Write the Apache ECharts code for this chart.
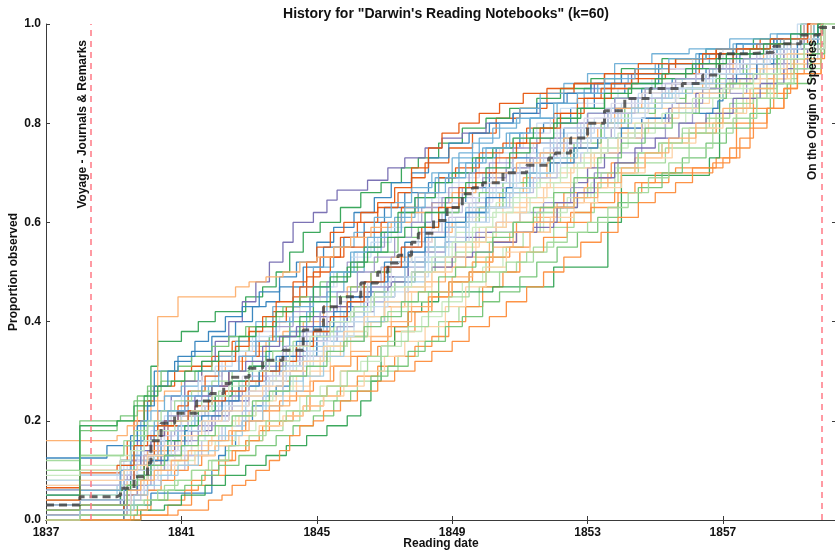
<!DOCTYPE html>
<html>
<head>
<meta charset="utf-8">
<script src="https://cdn.jsdelivr.net/npm/echarts@6/dist/echarts.min.js"></script>
<style>
  html, body { margin: 0; padding: 0; background: #fff; }
  #chart { width: 835px; height: 551px; }
</style>
</head>
<body>
<div id="chart"></div>
<script>
// Reading-date ticks and proportion ticks
const yearTicks = [1837, 1841, 1845, 1849, 1853, 1857];

// Publication events marked on the timeline
const eventYears = [1838.33, 1859.92];
const eventLabels = ['Voyage - Journals & Remarks', 'On the Origin of Species'];

// Topic colours (cycled over the 60 topics)
const palette = ['#3182bd', '#6baed6', '#9ecae1', '#c6dbef',
                 '#e6550d', '#fd8d3c', '#fdae6b', '#fdd0a2',
                 '#31a354', '#74c476', '#a1d99b', '#c7e9c0',
                 '#756bb1', '#9e9ac8', '#bcbddc', '#dadaeb'];

// Cumulative proportion of each topic observed by reading date: [year, proportion]
const topicCurves = [
  [[1837,0.125],[1838.8,0.15],[1839.5,0.17],[1839.7,0.2],[1840.0,0.24],[1840.2,0.3],[1840.8,0.32],[1841.3,0.34],[1841.9,0.37],[1842.6,0.4],[1843.1,0.43],[1843.5,0.44],[1843.9,0.47],[1844.6,0.51],[1845.2,0.55],[1845.8,0.57],[1846.4,0.6],[1847.0,0.63],[1847.6,0.66],[1848.3,0.68],[1848.9,0.7],[1849.7,0.73],[1850.3,0.75],[1851.0,0.78],[1851.7,0.8],[1852.5,0.83],[1853.2,0.86],[1854.1,0.88],[1855.1,0.9],[1856.2,0.92],[1857.3,0.95],[1858.6,0.97],[1859.6,1]],
  [[1837,0.02],[1838,0.03],[1839.2,0.09],[1839.5,0.13],[1839.8,0.17],[1840.2,0.2],[1840.6,0.22],[1841.2,0.24],[1841.8,0.27],[1842.4,0.3],[1843.1,0.33],[1843.6,0.37],[1844.2,0.41],[1844.8,0.45],[1845.4,0.5],[1846.1,0.54],[1846.7,0.58],[1847.3,0.61],[1847.9,0.65],[1848.5,0.69],[1849.2,0.72],[1849.9,0.75],[1850.6,0.78],[1851.3,0.81],[1852.1,0.84],[1852.9,0.87],[1853.8,0.9],[1855.0,0.92],[1856.2,0.94],[1857.3,0.96],[1858.4,0.97],[1859.8,1]],
  [[1837,0.05],[1838,0.06],[1839.3,0.1],[1839.7,0.12],[1840.1,0.14],[1840.5,0.16],[1840.9,0.18],[1841.6,0.2],[1842.2,0.22],[1842.9,0.25],[1843.5,0.28],[1844.0,0.32],[1844.6,0.36],[1845.2,0.39],[1845.8,0.42],[1846.4,0.46],[1847.0,0.49],[1847.7,0.52],[1848.3,0.55],[1848.9,0.59],[1849.5,0.62],[1850.1,0.65],[1850.8,0.68],[1851.6,0.72],[1852.4,0.76],[1853.1,0.8],[1853.9,0.83],[1854.7,0.86],[1855.6,0.88],[1856.7,0.91],[1857.8,0.93],[1858.7,0.96],[1859.5,1]],
  [[1837,0.0],[1838,0.01],[1839.4,0.06],[1839.7,0.08],[1840.0,0.1],[1840.6,0.13],[1841.1,0.16],[1841.7,0.2],[1842.4,0.24],[1843.0,0.27],[1843.7,0.3],[1844.3,0.34],[1845.0,0.38],[1845.7,0.43],[1846.3,0.47],[1846.9,0.51],[1847.5,0.55],[1848.0,0.58],[1848.6,0.62],[1849.2,0.66],[1849.9,0.7],[1850.6,0.73],[1851.3,0.76],[1852.0,0.78],[1852.8,0.8],[1853.6,0.83],[1854.5,0.86],[1855.6,0.89],[1856.7,0.91],[1857.8,0.94],[1858.9,0.96],[1859.9,1]],
  [[1837,0.065],[1838,0.095],[1839.2,0.12],[1839.4,0.16],[1839.6,0.2],[1839.9,0.24],[1840.2,0.27],[1840.8,0.3],[1841.3,0.31],[1841.9,0.33],[1842.5,0.36],[1843.0,0.39],[1843.7,0.42],[1844.3,0.45],[1844.7,0.49],[1845.1,0.53],[1845.7,0.57],[1846.2,0.6],[1846.8,0.63],[1847.4,0.66],[1847.8,0.69],[1848.2,0.72],[1848.9,0.75],[1849.6,0.78],[1850.3,0.81],[1851.0,0.83],[1851.8,0.86],[1852.6,0.88],[1853.5,0.9],[1854.4,0.91],[1855.6,0.93],[1856.8,0.95],[1858.1,0.97],[1859.4,1]],
  [[1837,0.0],[1839.3,0.02],[1840.1,0.04],[1841.1,0.06],[1841.5,0.07],[1841.9,0.09],[1842.3,0.12],[1842.6,0.14],[1843.0,0.16],[1843.4,0.19],[1843.9,0.2],[1844.3,0.22],[1844.8,0.25],[1845.3,0.27],[1845.7,0.3],[1846.2,0.33],[1846.8,0.35],[1847.3,0.38],[1847.9,0.42],[1848.4,0.45],[1849.0,0.48],[1849.6,0.52],[1850.2,0.56],[1850.9,0.6],[1851.6,0.63],[1852.3,0.66],[1853.0,0.69],[1853.7,0.72],[1854.5,0.74],[1855.2,0.76],[1856.0,0.78],[1856.8,0.8],[1857.4,0.83],[1857.9,0.86],[1858.5,0.9],[1859.1,0.93],[1859.9,1]],
  [[1837,0.16],[1839.1,0.17],[1839.4,0.19],[1839.7,0.22],[1840.1,0.24],[1840.5,0.26],[1841.0,0.28],[1841.6,0.3],[1842.3,0.32],[1842.9,0.34],[1843.5,0.36],[1844.0,0.38],[1844.6,0.4],[1845.2,0.43],[1845.9,0.47],[1846.6,0.5],[1847.2,0.53],[1847.8,0.56],[1848.4,0.58],[1849.0,0.6],[1849.7,0.63],[1850.4,0.66],[1851.1,0.69],[1851.8,0.72],[1852.5,0.75],[1853.3,0.79],[1854.0,0.82],[1854.8,0.84],[1855.6,0.86],[1856.4,0.88],[1857.3,0.9],[1858.2,0.93],[1859.0,0.96],[1859.7,1]],
  [[1837,0.03],[1838,0.04],[1839.5,0.07],[1839.9,0.09],[1840.4,0.12],[1841.0,0.15],[1841.5,0.17],[1842.1,0.19],[1842.7,0.21],[1843.2,0.24],[1843.8,0.26],[1844.4,0.29],[1845.1,0.33],[1845.7,0.36],[1846.4,0.4],[1847.0,0.43],[1847.7,0.47],[1848.4,0.51],[1849.1,0.55],[1849.8,0.59],[1850.5,0.63],[1851.2,0.67],[1851.9,0.7],[1852.6,0.73],[1853.4,0.77],[1854.2,0.8],[1855.0,0.83],[1855.9,0.86],[1856.9,0.88],[1857.8,0.91],[1858.6,0.94],[1859.8,1]],
  [[1837,0.0],[1838,0.02],[1839.3,0.1],[1839.6,0.16],[1839.9,0.23],[1840.1,0.31],[1840.3,0.36],[1841.0,0.38],[1841.5,0.4],[1842.0,0.42],[1842.9,0.45],[1843.4,0.47],[1843.8,0.5],[1844.2,0.54],[1844.6,0.58],[1845.1,0.6],[1845.7,0.63],[1846.3,0.66],[1846.9,0.68],[1847.5,0.71],[1848.0,0.73],[1848.6,0.76],[1849.3,0.79],[1850.0,0.81],[1850.7,0.83],[1851.5,0.85],[1852.2,0.87],[1853.1,0.89],[1854.0,0.91],[1855.2,0.93],[1856.5,0.95],[1857.9,0.97],[1859.3,1]],
  [[1837,0.06],[1838,0.18],[1839.1,0.2],[1839.6,0.24],[1840.0,0.26],[1840.4,0.28],[1841.4,0.3],[1841.9,0.32],[1842.5,0.34],[1843.0,0.35],[1843.6,0.37],[1844.2,0.4],[1844.8,0.42],[1845.4,0.45],[1846.0,0.47],[1846.6,0.5],[1847.2,0.52],[1847.8,0.54],[1848.5,0.57],[1849.1,0.6],[1849.8,0.63],[1850.5,0.67],[1851.2,0.7],[1851.9,0.74],[1852.7,0.77],[1853.4,0.8],[1854.1,0.83],[1855.0,0.85],[1855.9,0.87],[1856.8,0.9],[1857.6,0.92],[1858.6,0.95],[1859.6,1]],
  [[1837,0.01],[1838,0.02],[1839.6,0.04],[1840.5,0.07],[1840.9,0.08],[1841.3,0.1],[1841.8,0.12],[1842.3,0.14],[1842.9,0.16],[1843.4,0.18],[1844.0,0.2],[1844.5,0.22],[1845.1,0.24],[1845.6,0.26],[1846.2,0.28],[1846.8,0.3],[1847.4,0.33],[1848.0,0.36],[1848.6,0.4],[1849.2,0.43],[1849.8,0.47],[1850.4,0.5],[1850.9,0.52],[1851.4,0.55],[1852.0,0.59],[1852.6,0.62],[1853.2,0.66],[1853.8,0.7],[1854.5,0.72],[1855.3,0.75],[1856.0,0.78],[1856.7,0.8],[1857.4,0.83],[1858.0,0.86],[1858.6,0.89],[1859.2,0.92],[1859.9,1]],
  [[1837,0.1],[1838,0.11],[1839.2,0.13],[1839.5,0.15],[1839.8,0.17],[1840.3,0.19],[1840.7,0.21],[1841.3,0.22],[1841.9,0.24],[1842.6,0.26],[1843.2,0.28],[1843.8,0.3],[1844.4,0.33],[1844.9,0.36],[1845.5,0.39],[1846.1,0.42],[1846.7,0.45],[1847.3,0.49],[1847.9,0.52],[1848.5,0.55],[1849.1,0.58],[1849.7,0.61],[1850.3,0.64],[1851.0,0.67],[1851.6,0.69],[1852.4,0.72],[1853.1,0.75],[1853.9,0.78],[1854.7,0.8],[1855.5,0.83],[1856.3,0.86],[1857.2,0.89],[1858.1,0.91],[1859.0,0.95],[1859.7,1]],
  [[1837,0.02],[1838,0.03],[1839.2,0.08],[1839.5,0.12],[1839.7,0.16],[1840.0,0.19],[1840.3,0.22],[1840.7,0.25],[1841.1,0.28],[1841.6,0.32],[1842.0,0.36],[1842.4,0.4],[1842.8,0.44],[1843.2,0.48],[1843.6,0.52],[1844.0,0.56],[1844.3,0.6],[1844.9,0.62],[1845.3,0.645],[1845.6,0.665],[1846.5,0.685],[1847.1,0.71],[1847.6,0.73],[1848.2,0.75],[1848.7,0.77],[1849.3,0.78],[1850.0,0.8],[1850.8,0.82],[1851.6,0.84],[1852.4,0.86],[1853.2,0.88],[1854.3,0.9],[1855.4,0.91],[1856.4,0.93],[1857.4,0.95],[1858.5,0.97],[1859.5,1]],
  [[1837,0.04],[1838,0.05],[1839.4,0.09],[1839.7,0.11],[1840.0,0.14],[1840.4,0.17],[1840.8,0.19],[1841.2,0.21],[1841.7,0.23],[1842.2,0.25],[1842.8,0.27],[1843.3,0.29],[1843.9,0.31],[1844.5,0.34],[1845.0,0.36],[1845.6,0.39],[1846.1,0.42],[1846.7,0.45],[1847.3,0.48],[1847.9,0.5],[1848.5,0.53],[1849.1,0.56],[1849.7,0.58],[1850.3,0.6],[1851.0,0.62],[1851.7,0.64],[1852.5,0.67],[1853.2,0.7],[1853.9,0.74],[1854.6,0.77],[1855.3,0.8],[1856.1,0.83],[1856.9,0.86],[1857.7,0.89],[1858.5,0.92],[1859.2,0.95],[1859.8,1]],
  [[1837,0.02],[1838,0.04],[1839.3,0.07],[1839.6,0.09],[1840.0,0.12],[1840.4,0.14],[1840.9,0.17],[1841.5,0.2],[1842.1,0.24],[1842.7,0.27],[1843.3,0.3],[1843.9,0.33],[1844.5,0.37],[1845.1,0.41],[1845.7,0.44],[1846.3,0.48],[1846.9,0.51],[1847.5,0.55],[1848.1,0.58],[1848.7,0.62],[1849.3,0.65],[1850.0,0.68],[1850.6,0.71],[1851.2,0.74],[1851.9,0.77],[1852.7,0.8],[1853.5,0.83],[1854.3,0.85],[1855.2,0.88],[1856.2,0.9],[1857.2,0.93],[1858.3,0.96],[1859.4,1]],
  [[1837,0.07],[1838,0.08],[1839.1,0.1],[1839.5,0.13],[1839.9,0.16],[1840.3,0.2],[1840.7,0.24],[1841.2,0.26],[1841.6,0.29],[1842.2,0.32],[1842.7,0.35],[1843.3,0.38],[1843.9,0.41],[1844.5,0.44],[1845.1,0.47],[1845.6,0.5],[1846.2,0.54],[1846.8,0.57],[1847.4,0.6],[1848.0,0.63],[1848.6,0.66],[1849.2,0.69],[1849.8,0.72],[1850.4,0.75],[1851.1,0.78],[1851.9,0.81],[1852.7,0.84],[1853.5,0.87],[1854.3,0.89],[1855.2,0.91],[1856.1,0.93],[1857.0,0.95],[1858.0,0.96],[1859.0,0.98],[1859.8,1]],
  [[1837,0.0],[1839.3,0.03],[1840.1,0.054],[1841.9,0.1],[1842.1,0.13],[1842.3,0.15],[1842.6,0.18],[1842.8,0.2],[1843.1,0.23],[1843.4,0.25],[1843.8,0.27],[1844.2,0.3],[1844.6,0.33],[1845.0,0.37],[1845.4,0.4],[1845.9,0.44],[1846.4,0.48],[1847.0,0.52],[1847.6,0.56],[1848.2,0.6],[1848.8,0.64],[1849.4,0.67],[1850.1,0.7],[1850.8,0.73],[1851.5,0.76],[1852.3,0.79],[1853.0,0.82],[1853.8,0.85],[1854.6,0.87],[1855.5,0.89],[1856.5,0.91],[1857.5,0.94],[1858.6,0.97],[1859.6,1]],
  [[1837,0.03],[1838,0.05],[1839.2,0.11],[1839.5,0.15],[1839.8,0.2],[1840.1,0.22],[1840.5,0.25],[1841.0,0.27],[1841.5,0.3],[1842.1,0.33],[1842.6,0.36],[1843.2,0.4],[1843.7,0.43],[1844.3,0.47],[1844.9,0.51],[1845.5,0.55],[1846.1,0.58],[1846.7,0.61],[1847.2,0.64],[1847.8,0.67],[1848.4,0.7],[1849.0,0.73],[1849.6,0.76],[1850.2,0.79],[1850.9,0.81],[1851.6,0.84],[1852.4,0.86],[1853.3,0.88],[1854.2,0.9],[1855.4,0.92],[1856.6,0.94],[1857.6,0.96],[1858.7,0.97],[1859.9,1]],
  [[1837,0.01],[1838,0.02],[1839.5,0.05],[1839.9,0.07],[1840.2,0.09],[1840.7,0.11],[1841.2,0.13],[1841.8,0.16],[1842.3,0.19],[1842.9,0.22],[1843.5,0.25],[1844.0,0.28],[1844.6,0.32],[1845.2,0.36],[1845.8,0.4],[1846.4,0.44],[1847.0,0.47],[1847.6,0.51],[1848.2,0.55],[1848.8,0.59],[1849.4,0.63],[1850.0,0.67],[1850.7,0.7],[1851.3,0.73],[1852.0,0.76],[1852.8,0.79],[1853.6,0.82],[1854.5,0.85],[1855.4,0.87],[1856.5,0.9],[1857.7,0.92],[1858.6,0.95],[1859.6,1]],
  [[1837,0.05],[1838,0.07],[1839.3,0.12],[1839.7,0.15],[1840.1,0.18],[1840.5,0.21],[1841.0,0.25],[1841.5,0.28],[1842.0,0.31],[1842.5,0.34],[1843.1,0.37],[1843.7,0.4],[1844.3,0.44],[1844.9,0.47],[1845.5,0.5],[1846.0,0.53],[1846.6,0.56],[1847.2,0.59],[1847.8,0.62],[1848.4,0.65],[1849.0,0.68],[1849.6,0.71],[1850.2,0.74],[1850.8,0.77],[1851.5,0.8],[1852.2,0.83],[1853.0,0.85],[1853.9,0.87],[1854.9,0.89],[1855.9,0.91],[1857.0,0.93],[1858.1,0.96],[1859.2,1]],
  [[1837,0.0],[1838,0.01],[1839.4,0.05],[1839.7,0.08],[1840.0,0.12],[1840.3,0.16],[1840.6,0.19],[1841.0,0.21],[1841.4,0.23],[1841.9,0.27],[1842.4,0.3],[1842.8,0.33],[1843.3,0.36],[1843.7,0.4],[1844.1,0.43],[1844.5,0.47],[1844.9,0.5],[1845.4,0.53],[1845.8,0.55],[1846.4,0.58],[1846.9,0.6],[1847.5,0.63],[1848.0,0.66],[1848.6,0.69],[1849.1,0.71],[1849.8,0.74],[1850.5,0.76],[1851.2,0.79],[1852.0,0.82],[1852.7,0.85],[1853.4,0.87],[1854.3,0.89],[1855.3,0.9],[1856.3,0.92],[1857.3,0.94],[1858.4,0.96],[1859.5,1]],
  [[1837,0.0],[1839.6,0.01],[1840.6,0.03],[1841.3,0.08],[1841.7,0.1],[1842.1,0.12],[1842.5,0.14],[1842.9,0.16],[1843.3,0.18],[1843.6,0.2],[1844.1,0.21],[1844.6,0.23],[1845.2,0.25],[1845.7,0.27],[1846.2,0.29],[1846.8,0.31],[1847.3,0.33],[1847.9,0.35],[1848.4,0.37],[1848.9,0.4],[1849.4,0.43],[1849.9,0.47],[1850.5,0.5],[1851.0,0.54],[1851.7,0.57],[1852.4,0.6],[1853.1,0.63],[1853.9,0.66],[1854.6,0.68],[1855.4,0.7],[1856.1,0.71],[1856.8,0.73],[1857.4,0.8],[1857.9,0.83],[1858.5,0.86],[1859.0,0.9],[1859.4,0.93],[1860.0,1]],
  [[1837,0.04],[1838,0.06],[1839.2,0.08],[1839.9,0.12],[1840.3,0.14],[1840.8,0.16],[1841.3,0.18],[1841.8,0.2],[1842.4,0.23],[1843.0,0.26],[1843.6,0.28],[1844.2,0.3],[1844.7,0.32],[1845.3,0.35],[1845.9,0.37],[1846.5,0.4],[1847.0,0.43],[1847.6,0.46],[1848.2,0.48],[1848.8,0.51],[1849.4,0.53],[1850.1,0.56],[1850.7,0.58],[1851.4,0.61],[1852.1,0.64],[1852.9,0.67],[1853.6,0.7],[1854.4,0.73],[1855.2,0.76],[1856.0,0.79],[1856.8,0.82],[1857.6,0.86],[1858.3,0.89],[1858.9,0.92],[1859.9,1]],
  [[1837,0.02],[1838,0.03],[1839.3,0.06],[1839.8,0.08],[1840.2,0.11],[1840.8,0.13],[1841.3,0.15],[1841.9,0.17],[1842.5,0.2],[1843.0,0.22],[1843.6,0.25],[1844.2,0.27],[1844.8,0.3],[1845.4,0.33],[1846.0,0.37],[1846.6,0.4],[1847.2,0.43],[1847.8,0.46],[1848.4,0.5],[1849.0,0.53],[1849.7,0.57],[1850.3,0.6],[1851.0,0.64],[1851.7,0.67],[1852.5,0.71],[1853.2,0.74],[1854.0,0.78],[1854.8,0.81],[1855.7,0.84],[1856.6,0.87],[1857.5,0.89],[1858.3,0.92],[1859.0,0.94],[1859.9,1]],
  [[1837,0.0],[1839.8,0.02],[1840.5,0.03],[1841.0,0.05],[1841.7,0.07],[1842.3,0.09],[1842.9,0.11],[1843.5,0.13],[1844.1,0.15],[1844.7,0.17],[1845.3,0.19],[1845.9,0.21],[1846.3,0.24],[1846.6,0.28],[1846.9,0.35],[1847.3,0.39],[1847.7,0.42],[1848.1,0.44],[1848.6,0.46],[1850.2,0.47],[1852.0,0.51],[1853.6,0.6],[1854.0,0.695],[1856.6,0.73],[1856.9,0.94],[1858.4,0.96],[1859.7,0.98],[1859.95,1]],
  [[1837,0.08],[1838,0.2],[1839.2,0.21],[1839.7,0.25],[1840.0,0.27],[1840.4,0.3],[1840.9,0.31],[1841.3,0.33],[1841.9,0.35],[1842.4,0.37],[1842.9,0.39],[1843.5,0.41],[1844.0,0.43],[1844.5,0.45],[1845.1,0.48],[1845.6,0.5],[1846.2,0.52],[1846.8,0.54],[1847.4,0.57],[1848.0,0.59],[1848.6,0.62],[1849.2,0.64],[1849.8,0.66],[1850.5,0.68],[1851.2,0.7],[1851.9,0.73],[1852.6,0.76],[1853.4,0.79],[1854.2,0.82],[1855.0,0.84],[1855.9,0.87],[1856.8,0.89],[1857.7,0.92],[1858.6,0.94],[1859.8,1]],
  [[1837,0.1],[1838,0.13],[1839.3,0.15],[1839.6,0.17],[1840.0,0.19],[1840.5,0.2],[1841.0,0.22],[1841.6,0.24],[1842.1,0.26],[1842.7,0.28],[1843.3,0.3],[1843.9,0.31],[1844.6,0.33],[1845.2,0.35],[1845.9,0.37],[1846.5,0.4],[1847.1,0.42],[1847.7,0.44],[1848.3,0.46],[1848.9,0.48],[1849.5,0.5],[1850.0,0.53],[1850.6,0.55],[1851.1,0.58],[1851.6,0.6],[1852.2,0.63],[1852.7,0.66],[1853.3,0.68],[1853.9,0.71],[1854.5,0.74],[1855.1,0.76],[1855.8,0.79],[1856.6,0.82],[1857.4,0.85],[1858.3,0.88],[1859.0,0.92],[1859.6,1]],
  [[1837,0.03],[1838,0.04],[1839.5,0.07],[1839.9,0.08],[1840.3,0.1],[1840.9,0.12],[1841.4,0.14],[1842.0,0.16],[1842.6,0.18],[1843.2,0.2],[1843.9,0.22],[1844.5,0.25],[1845.1,0.27],[1845.7,0.3],[1846.3,0.32],[1846.9,0.35],[1847.5,0.38],[1848.1,0.41],[1848.7,0.44],[1849.3,0.48],[1849.9,0.51],[1850.5,0.55],[1851.1,0.58],[1851.7,0.62],[1852.4,0.65],[1853.1,0.68],[1853.8,0.71],[1854.5,0.74],[1855.2,0.76],[1856.0,0.79],[1856.8,0.82],[1857.6,0.85],[1858.4,0.88],[1859.0,0.91],[1859.6,0.94],[1860.0,1]],
  [[1837,0.01],[1838,0.02],[1839.3,0.06],[1839.7,0.08],[1840.0,0.11],[1840.4,0.13],[1840.8,0.16],[1841.3,0.18],[1841.9,0.21],[1842.4,0.24],[1843.0,0.27],[1843.5,0.3],[1844.1,0.33],[1844.7,0.36],[1845.3,0.4],[1845.9,0.43],[1846.5,0.46],[1847.1,0.49],[1847.7,0.52],[1848.2,0.54],[1848.8,0.56],[1849.4,0.57],[1850.0,0.58],[1851.4,0.59],[1852.0,0.64],[1852.6,0.68],[1853.0,0.71],[1853.5,0.74],[1854.0,0.77],[1854.6,0.8],[1855.4,0.83],[1856.2,0.86],[1857.1,0.89],[1858.0,0.92],[1858.8,0.95],[1859.7,1]],
  [[1837,0.06],[1838,0.07],[1839.2,0.1],[1839.5,0.12],[1839.8,0.15],[1840.2,0.18],[1840.6,0.21],[1841.1,0.24],[1841.6,0.27],[1842.2,0.3],[1842.7,0.33],[1843.2,0.36],[1843.8,0.39],[1844.3,0.42],[1844.8,0.45],[1845.3,0.48],[1845.9,0.52],[1846.4,0.55],[1847.0,0.58],[1847.5,0.6],[1848.1,0.63],[1848.7,0.65],[1849.3,0.67],[1849.9,0.69],[1850.6,0.71],[1851.3,0.73],[1852.0,0.75],[1852.8,0.77],[1853.7,0.79],[1854.6,0.81],[1855.5,0.84],[1856.4,0.87],[1857.3,0.9],[1858.2,0.92],[1859.1,0.95],[1859.9,1]],
  [[1837,0.0],[1838,0.01],[1839.4,0.04],[1839.8,0.06],[1840.2,0.08],[1840.6,0.1],[1841.1,0.13],[1841.6,0.16],[1842.2,0.19],[1842.8,0.22],[1843.4,0.26],[1844.0,0.29],[1844.6,0.33],[1845.2,0.37],[1845.8,0.41],[1846.4,0.44],[1847.0,0.48],[1847.6,0.51],[1848.2,0.54],[1848.8,0.57],[1849.4,0.6],[1850.0,0.63],[1850.7,0.66],[1851.4,0.69],[1852.1,0.72],[1852.8,0.74],[1853.6,0.77],[1854.4,0.79],[1855.3,0.82],[1856.2,0.85],[1857.1,0.88],[1857.9,0.9],[1858.8,0.93],[1859.8,1]],
  [[1837,0.04],[1838,0.05],[1839.3,0.09],[1839.7,0.12],[1840.1,0.15],[1840.5,0.17],[1841.0,0.2],[1841.6,0.23],[1842.2,0.26],[1842.8,0.29],[1843.5,0.32],[1844.1,0.35],[1844.7,0.39],[1845.3,0.42],[1845.9,0.45],[1846.5,0.48],[1847.1,0.51],[1847.7,0.54],[1848.3,0.57],[1848.9,0.6],[1849.6,0.64],[1850.2,0.67],[1850.9,0.7],[1851.6,0.73],[1852.3,0.76],[1853.1,0.79],[1853.9,0.82],[1854.8,0.85],[1855.7,0.87],[1856.6,0.9],[1857.5,0.92],[1858.4,0.95],[1859.3,0.97],[1859.9,1]],
  [[1837,0.06],[1838,0.09],[1839.2,0.12],[1839.5,0.16],[1839.7,0.19],[1840.0,0.23],[1840.2,0.27],[1840.6,0.3],[1840.9,0.33],[1841.4,0.36],[1841.8,0.38],[1842.3,0.41],[1842.8,0.43],[1843.3,0.46],[1843.9,0.49],[1844.4,0.52],[1845.0,0.56],[1845.5,0.59],[1846.1,0.62],[1846.7,0.65],[1847.2,0.68],[1847.8,0.7],[1848.3,0.73],[1848.9,0.76],[1849.5,0.78],[1850.1,0.8],[1850.8,0.82],[1851.5,0.84],[1852.3,0.86],[1853.1,0.88],[1854.0,0.9],[1855.1,0.92],[1856.3,0.94],[1857.4,0.96],[1858.5,0.97],[1859.8,1]],
  [[1837,0.02],[1838,0.04],[1839.3,0.08],[1839.6,0.1],[1840.0,0.13],[1840.4,0.16],[1840.9,0.19],[1841.4,0.22],[1842.0,0.25],[1842.5,0.28],[1843.1,0.31],[1843.6,0.34],[1844.2,0.38],[1844.7,0.42],[1845.3,0.46],[1845.8,0.5],[1846.4,0.54],[1846.9,0.58],[1847.5,0.62],[1848.0,0.66],[1848.6,0.7],[1849.2,0.74],[1849.8,0.77],[1850.4,0.8],[1851.0,0.83],[1851.6,0.86],[1852.3,0.88],[1853.0,0.9],[1853.8,0.92],[1854.9,0.94],[1856.0,0.95],[1857.2,0.97],[1858.4,0.98],[1859.7,1]],
  [[1837,0.03],[1838,0.05],[1839.1,0.07],[1839.5,0.1],[1839.8,0.12],[1840.2,0.15],[1840.7,0.18],[1841.3,0.2],[1841.8,0.22],[1842.4,0.25],[1843.0,0.27],[1843.5,0.3],[1844.1,0.32],[1844.7,0.35],[1845.2,0.38],[1845.8,0.41],[1846.4,0.45],[1847.0,0.48],[1847.6,0.52],[1848.2,0.55],[1848.8,0.59],[1849.4,0.62],[1850.1,0.66],[1850.8,0.7],[1851.5,0.74],[1852.2,0.77],[1852.9,0.8],[1853.7,0.83],[1854.5,0.85],[1855.5,0.88],[1856.4,0.9],[1857.4,0.93],[1858.3,0.95],[1859.0,0.97],[1859.8,1]],
  [[1837,0.08],[1838,0.09],[1839.4,0.11],[1839.8,0.13],[1840.1,0.16],[1840.5,0.18],[1841.0,0.21],[1841.7,0.23],[1842.3,0.25],[1842.9,0.27],[1843.6,0.29],[1844.2,0.31],[1844.9,0.34],[1845.5,0.37],[1846.1,0.41],[1846.7,0.45],[1847.3,0.49],[1847.9,0.53],[1848.5,0.57],[1849.1,0.61],[1849.7,0.65],[1850.3,0.68],[1851.0,0.72],[1851.7,0.75],[1852.4,0.78],[1853.2,0.81],[1854.0,0.84],[1854.9,0.86],[1855.8,0.89],[1856.8,0.91],[1857.8,0.94],[1858.7,0.96],[1859.6,1]],
  [[1837,0.01],[1838,0.02],[1839.3,0.07],[1839.6,0.1],[1839.9,0.13],[1840.2,0.17],[1840.5,0.2],[1840.9,0.23],[1841.2,0.26],[1841.7,0.29],[1842.1,0.32],[1842.6,0.35],[1843.0,0.38],[1843.4,0.41],[1843.8,0.44],[1844.3,0.48],[1844.7,0.52],[1845.0,0.55],[1845.4,0.58],[1845.8,0.6],[1846.3,0.62],[1846.8,0.64],[1847.3,0.67],[1847.8,0.71],[1848.3,0.75],[1848.7,0.78],[1849.2,0.8],[1849.8,0.82],[1850.4,0.84],[1851.1,0.86],[1851.8,0.87],[1852.6,0.88],[1853.5,0.9],[1854.5,0.92],[1855.6,0.93],[1856.8,0.95],[1858.0,0.96],[1859.6,1]],
  [[1837,0.02],[1838,0.03],[1839.5,0.05],[1840.0,0.06],[1840.4,0.08],[1840.8,0.1],[1841.2,0.11],[1841.6,0.13],[1842.0,0.15],[1842.5,0.18],[1842.9,0.2],[1843.4,0.22],[1843.9,0.24],[1844.4,0.26],[1844.9,0.28],[1845.5,0.31],[1846.0,0.33],[1846.6,0.36],[1847.1,0.39],[1847.7,0.42],[1848.3,0.45],[1848.9,0.48],[1849.5,0.5],[1850.1,0.53],[1850.7,0.55],[1851.3,0.58],[1851.9,0.6],[1852.5,0.62],[1853.1,0.64],[1853.8,0.66],[1854.4,0.68],[1855.0,0.7],[1855.6,0.71],[1857.0,0.73],[1857.5,0.77],[1857.9,0.8],[1858.3,0.83],[1858.8,0.87],[1859.2,0.9],[1859.9,1]],
  [[1837,0.0],[1839.5,0.02],[1840.0,0.14],[1840.3,0.41],[1840.9,0.45],[1842.6,0.47],[1843.0,0.48],[1843.5,0.49],[1844.0,0.5],[1844.5,0.52],[1845.0,0.53],[1845.5,0.55],[1846.0,0.57],[1846.6,0.59],[1847.2,0.6],[1847.8,0.62],[1848.4,0.64],[1849.0,0.66],[1849.7,0.68],[1850.3,0.7],[1850.9,0.72],[1851.6,0.74],[1852.3,0.77],[1853.0,0.8],[1853.8,0.83],[1854.6,0.86],[1855.5,0.88],[1856.4,0.9],[1857.3,0.92],[1858.2,0.94],[1859.0,0.96],[1859.7,1]],
  [[1837,0.05],[1838,0.06],[1839.4,0.08],[1840.3,0.1],[1840.8,0.11],[1841.4,0.13],[1842.0,0.15],[1842.7,0.17],[1843.3,0.19],[1844.0,0.21],[1844.6,0.23],[1845.2,0.25],[1845.8,0.27],[1846.4,0.3],[1847.0,0.33],[1847.6,0.36],[1848.2,0.39],[1848.8,0.43],[1849.4,0.47],[1850.0,0.51],[1850.6,0.54],[1851.3,0.58],[1851.9,0.61],[1852.6,0.64],[1853.3,0.67],[1854.0,0.7],[1854.7,0.73],[1855.5,0.76],[1856.2,0.79],[1857.0,0.82],[1857.7,0.85],[1858.5,0.89],[1859.0,0.92],[1859.5,0.95],[1860.0,1]],
  [[1837,0.03],[1838,0.04],[1839.2,0.06],[1839.5,0.08],[1839.9,0.11],[1840.2,0.13],[1840.6,0.16],[1841.1,0.19],[1841.5,0.22],[1842.0,0.25],[1842.5,0.28],[1843.0,0.31],[1843.5,0.34],[1844.0,0.37],[1844.5,0.41],[1844.9,0.44],[1845.4,0.48],[1845.9,0.51],[1846.4,0.55],[1846.9,0.58],[1847.4,0.62],[1847.9,0.65],[1848.5,0.68],[1849.0,0.7],[1849.6,0.73],[1850.2,0.75],[1850.8,0.77],[1851.4,0.79],[1852.1,0.81],[1852.8,0.83],[1853.5,0.85],[1854.2,0.87],[1855.0,0.89],[1855.9,0.91],[1856.8,0.93],[1857.8,0.95],[1858.8,0.97],[1859.8,1]],
  [[1837,0.0],[1838,0.01],[1839.7,0.03],[1840.1,0.04],[1840.6,0.06],[1841.1,0.07],[1841.6,0.09],[1842.1,0.11],[1842.7,0.13],[1843.2,0.15],[1843.8,0.17],[1844.3,0.19],[1844.9,0.21],[1845.5,0.24],[1846.0,0.26],[1846.6,0.29],[1847.1,0.31],[1847.7,0.34],[1848.2,0.36],[1848.8,0.39],[1849.3,0.41],[1849.9,0.44],[1850.4,0.46],[1851.0,0.49],[1851.5,0.52],[1852.1,0.55],[1852.7,0.58],[1853.3,0.61],[1853.9,0.64],[1854.5,0.67],[1855.2,0.7],[1855.8,0.73],[1856.5,0.76],[1857.1,0.79],[1857.8,0.82],[1858.4,0.85],[1858.9,0.88],[1859.6,0.94],[1860.0,1]],
  [[1837,0.12],[1838,0.13],[1839.3,0.16],[1839.6,0.18],[1840.0,0.2],[1840.4,0.22],[1840.8,0.24],[1841.3,0.26],[1841.9,0.28],[1842.5,0.3],[1843.1,0.32],[1843.7,0.34],[1844.3,0.36],[1844.9,0.38],[1845.5,0.41],[1846.1,0.43],[1846.7,0.46],[1847.3,0.48],[1847.9,0.5],[1848.5,0.52],[1849.1,0.54],[1849.6,0.56],[1850.2,0.58],[1850.8,0.6],[1851.5,0.62],[1852.0,0.63],[1852.6,0.65],[1853.0,0.67],[1853.4,0.7],[1853.9,0.72],[1854.5,0.74],[1855.1,0.76],[1855.8,0.78],[1856.5,0.81],[1857.2,0.84],[1857.9,0.87],[1858.6,0.9],[1859.1,0.93],[1859.7,1]],
  [[1837,0.04],[1838,0.05],[1839.2,0.07],[1839.6,0.08],[1840.0,0.1],[1840.5,0.12],[1841.0,0.14],[1841.5,0.16],[1842.1,0.19],[1842.6,0.21],[1843.2,0.24],[1843.7,0.26],[1844.3,0.29],[1844.8,0.32],[1845.4,0.35],[1845.9,0.38],[1846.5,0.41],[1847.0,0.44],[1847.6,0.47],[1848.2,0.5],[1848.8,0.53],[1849.4,0.56],[1850.0,0.59],[1850.6,0.62],[1851.3,0.65],[1852.0,0.68],[1852.7,0.72],[1853.4,0.75],[1854.2,0.78],[1855.0,0.8],[1855.9,0.83],[1856.7,0.85],[1857.6,0.88],[1858.3,0.9],[1859.0,0.93],[1859.9,1]],
  [[1837,0.03],[1838,0.04],[1839.3,0.08],[1839.5,0.11],[1839.8,0.14],[1840.1,0.17],[1840.5,0.2],[1840.9,0.22],[1841.4,0.25],[1841.9,0.27],[1842.4,0.3],[1842.9,0.32],[1843.4,0.35],[1843.9,0.37],[1844.4,0.39],[1844.9,0.41],[1845.5,0.43],[1846.0,0.45],[1846.6,0.47],[1847.2,0.48],[1847.8,0.5],[1848.4,0.51],[1849.0,0.53],[1849.6,0.54],[1850.2,0.56],[1850.9,0.58],[1851.5,0.6],[1852.1,0.63],[1852.7,0.66],[1853.2,0.69],[1853.8,0.72],[1854.4,0.75],[1855.0,0.77],[1855.7,0.8],[1856.5,0.82],[1857.3,0.85],[1858.1,0.88],[1858.8,0.91],[1859.5,0.95],[1860.0,1]],
  [[1837,0.01],[1838,0.02],[1839.4,0.05],[1839.7,0.07],[1840.1,0.1],[1840.5,0.13],[1841.0,0.16],[1841.5,0.19],[1842.0,0.22],[1842.5,0.25],[1843.0,0.28],[1843.5,0.31],[1844.0,0.35],[1844.6,0.38],[1845.1,0.42],[1845.6,0.46],[1846.2,0.5],[1846.7,0.53],[1847.3,0.57],[1847.8,0.6],[1848.4,0.64],[1848.9,0.67],[1849.5,0.7],[1850.1,0.72],[1850.8,0.75],[1851.5,0.77],[1852.2,0.8],[1853.0,0.82],[1853.8,0.85],[1854.7,0.87],[1855.6,0.89],[1856.6,0.91],[1857.6,0.93],[1858.5,0.95],[1859.4,0.97],[1859.9,1]],
  [[1837,0.06],[1838,0.07],[1839.2,0.09],[1839.5,0.11],[1839.9,0.13],[1840.3,0.15],[1840.7,0.18],[1841.2,0.21],[1841.8,0.24],[1842.3,0.26],[1842.9,0.29],[1843.5,0.32],[1844.1,0.35],[1844.7,0.38],[1845.3,0.41],[1845.9,0.44],[1846.5,0.47],[1847.1,0.51],[1847.7,0.54],[1848.3,0.58],[1848.9,0.61],[1849.5,0.64],[1850.1,0.67],[1850.7,0.7],[1851.4,0.73],[1852.1,0.76],[1852.8,0.79],[1853.6,0.82],[1854.4,0.85],[1855.3,0.88],[1856.2,0.9],[1857.1,0.92],[1858.0,0.94],[1858.8,0.97],[1859.6,1]],
  [[1837,0.0],[1838,0.02],[1839.5,0.06],[1839.9,0.08],[1840.3,0.11],[1840.8,0.14],[1841.3,0.17],[1841.8,0.2],[1842.4,0.23],[1843.0,0.26],[1843.6,0.29],[1844.2,0.32],[1844.8,0.36],[1845.4,0.4],[1846.0,0.44],[1846.6,0.48],[1847.2,0.52],[1847.8,0.56],[1848.4,0.6],[1849.0,0.64],[1849.6,0.68],[1850.2,0.71],[1850.8,0.74],[1851.4,0.76],[1852.1,0.79],[1852.9,0.81],[1853.7,0.84],[1854.6,0.86],[1855.5,0.88],[1856.4,0.9],[1857.4,0.92],[1858.3,0.94],[1859.2,0.96],[1859.9,1]],
  [[1837,0.02],[1838,0.03],[1839.3,0.06],[1839.7,0.09],[1840.1,0.12],[1840.6,0.15],[1841.1,0.18],[1841.6,0.21],[1842.2,0.24],[1842.7,0.27],[1843.3,0.3],[1843.8,0.33],[1844.4,0.36],[1844.9,0.39],[1845.5,0.42],[1846.0,0.45],[1846.6,0.48],[1847.1,0.51],[1847.7,0.54],[1848.2,0.57],[1848.8,0.6],[1849.4,0.62],[1850.0,0.65],[1850.6,0.67],[1851.3,0.7],[1851.9,0.72],[1852.6,0.75],[1853.3,0.77],[1854.0,0.79],[1854.6,0.81],[1855.3,0.82],[1856.7,0.83],[1856.85,0.845],[1857.0,0.86],[1857.2,0.88],[1857.4,0.9],[1858.0,0.92],[1858.5,0.93],[1859.2,0.96],[1859.8,1]],
  [[1837,0.05],[1838,0.06],[1839.2,0.1],[1839.5,0.13],[1839.8,0.16],[1840.2,0.19],[1840.6,0.22],[1841.1,0.25],[1841.6,0.27],[1842.1,0.3],[1842.7,0.33],[1843.2,0.36],[1843.8,0.4],[1844.3,0.43],[1844.9,0.47],[1845.4,0.5],[1846.0,0.54],[1846.5,0.57],[1847.1,0.6],[1847.6,0.63],[1848.2,0.66],[1848.8,0.69],[1849.4,0.72],[1850.0,0.75],[1850.7,0.78],[1851.3,0.81],[1852.0,0.84],[1852.7,0.86],[1853.5,0.89],[1854.4,0.91],[1855.4,0.93],[1856.5,0.95],[1857.6,0.96],[1858.6,0.98],[1859.7,1]],
  [[1837,0.01],[1838,0.02],[1839.6,0.05],[1840.0,0.07],[1840.4,0.09],[1840.9,0.11],[1841.5,0.14],[1842.1,0.17],[1842.8,0.2],[1843.4,0.23],[1844.0,0.26],[1844.6,0.29],[1845.2,0.33],[1845.8,0.36],[1846.4,0.4],[1847.0,0.44],[1847.6,0.48],[1848.2,0.52],[1848.8,0.56],[1849.4,0.6],[1850.0,0.63],[1850.6,0.66],[1851.3,0.7],[1852.0,0.73],[1852.7,0.77],[1853.5,0.8],[1854.3,0.83],[1855.2,0.86],[1856.1,0.88],[1857.1,0.9],[1858.2,0.93],[1859.0,0.96],[1859.7,1]],
  [[1837,0.03],[1838,0.04],[1839.3,0.08],[1839.7,0.1],[1840.2,0.13],[1840.7,0.15],[1841.2,0.18],[1841.7,0.2],[1842.3,0.23],[1842.9,0.25],[1843.5,0.28],[1844.1,0.31],[1844.7,0.34],[1845.3,0.37],[1845.9,0.4],[1846.5,0.43],[1847.1,0.46],[1847.7,0.49],[1848.3,0.53],[1848.9,0.56],[1849.5,0.6],[1850.1,0.63],[1850.8,0.67],[1851.5,0.7],[1852.2,0.74],[1853.0,0.77],[1853.8,0.81],[1854.7,0.84],[1855.6,0.87],[1856.5,0.9],[1857.5,0.92],[1858.4,0.95],[1859.3,0.97],[1859.9,1]],
  [[1837,0.04],[1838,0.1],[1839.1,0.11],[1839.6,0.15],[1840.0,0.17],[1840.3,0.19],[1840.8,0.2],[1841.2,0.22],[1841.8,0.24],[1842.3,0.26],[1842.9,0.28],[1843.4,0.3],[1843.9,0.32],[1844.4,0.35],[1844.9,0.38],[1845.4,0.41],[1845.9,0.44],[1846.4,0.48],[1847.0,0.51],[1847.5,0.55],[1848.1,0.59],[1848.6,0.63],[1849.2,0.67],[1849.7,0.7],[1850.3,0.73],[1850.9,0.76],[1851.6,0.79],[1852.2,0.82],[1852.9,0.85],[1853.7,0.88],[1854.5,0.9],[1855.4,0.92],[1856.4,0.94],[1857.4,0.95],[1858.4,0.97],[1859.5,1]],
  [[1837,0.0],[1839.8,0.01],[1840.9,0.02],[1841.8,0.04],[1842.2,0.05],[1842.5,0.07],[1842.9,0.08],[1843.2,0.1],[1843.6,0.12],[1843.9,0.14],[1844.2,0.17],[1844.5,0.19],[1844.9,0.2],[1845.2,0.22],[1845.7,0.24],[1846.2,0.26],[1846.8,0.28],[1847.3,0.3],[1847.9,0.32],[1848.4,0.34],[1849.0,0.36],[1849.5,0.39],[1850.1,0.41],[1850.6,0.44],[1851.2,0.47],[1851.7,0.5],[1852.3,0.53],[1852.8,0.56],[1853.4,0.58],[1853.9,0.61],[1854.5,0.64],[1855.0,0.66],[1855.6,0.68],[1856.1,0.7],[1856.7,0.72],[1857.2,0.75],[1857.8,0.79],[1858.3,0.83],[1858.8,0.87],[1859.2,0.9],[1859.9,1]],
  [[1837,0.02],[1838,0.03],[1839.4,0.06],[1839.8,0.08],[1840.2,0.1],[1840.7,0.12],[1841.2,0.14],[1841.8,0.16],[1842.4,0.18],[1843.0,0.2],[1843.6,0.23],[1844.2,0.25],[1844.8,0.28],[1845.4,0.31],[1846.0,0.34],[1846.6,0.37],[1847.2,0.4],[1847.8,0.43],[1848.4,0.46],[1849.0,0.49],[1849.6,0.52],[1850.2,0.55],[1850.8,0.58],[1851.4,0.6],[1852.0,0.63],[1852.6,0.65],[1853.3,0.68],[1854.0,0.71],[1854.7,0.74],[1855.4,0.77],[1856.2,0.8],[1857.0,0.83],[1857.8,0.87],[1858.5,0.9],[1859.1,0.93],[1859.9,1]],
  [[1837,0.07],[1838,0.08],[1839.3,0.1],[1839.7,0.11],[1840.0,0.13],[1840.5,0.15],[1841.0,0.17],[1841.6,0.2],[1842.2,0.22],[1842.8,0.25],[1843.4,0.27],[1844.0,0.3],[1844.6,0.32],[1845.2,0.35],[1845.8,0.38],[1846.4,0.41],[1847.0,0.44],[1847.6,0.47],[1848.2,0.5],[1848.8,0.53],[1849.4,0.56],[1850.0,0.59],[1850.6,0.62],[1851.2,0.65],[1851.8,0.68],[1852.5,0.71],[1853.1,0.74],[1853.9,0.77],[1854.6,0.8],[1855.5,0.83],[1856.3,0.86],[1857.2,0.88],[1858.1,0.91],[1858.9,0.94],[1859.6,1]],
  [[1837,0.05],[1838,0.19],[1839.1,0.2],[1839.6,0.23],[1839.9,0.25],[1840.3,0.27],[1840.7,0.28],[1841.1,0.3],[1841.6,0.32],[1842.1,0.34],[1842.7,0.37],[1843.2,0.39],[1843.8,0.42],[1844.3,0.44],[1844.9,0.47],[1845.4,0.49],[1846.0,0.52],[1846.5,0.54],[1847.1,0.57],[1847.6,0.59],[1848.2,0.62],[1848.8,0.65],[1849.4,0.68],[1850.0,0.71],[1850.7,0.74],[1851.3,0.77],[1852.0,0.8],[1852.7,0.83],[1853.5,0.86],[1854.3,0.88],[1855.2,0.9],[1856.1,0.92],[1857.1,0.94],[1858.2,0.96],[1859.0,0.98],[1859.8,1]],
  [[1837,0.02],[1838,0.03],[1839.4,0.07],[1839.7,0.09],[1840.1,0.11],[1840.5,0.13],[1841.0,0.15],[1841.5,0.17],[1842.0,0.19],[1842.5,0.21],[1843.1,0.24],[1843.6,0.26],[1844.2,0.29],[1844.7,0.31],[1845.3,0.34],[1845.8,0.36],[1846.4,0.39],[1846.9,0.41],[1847.5,0.44],[1848.0,0.46],[1848.6,0.49],[1849.1,0.51],[1849.7,0.54],[1850.2,0.57],[1850.8,0.6],[1851.4,0.63],[1852.0,0.66],[1852.6,0.69],[1853.3,0.73],[1854.0,0.76],[1854.7,0.79],[1855.5,0.82],[1856.3,0.85],[1857.1,0.88],[1857.9,0.9],[1858.6,0.93],[1859.4,0.96],[1860.0,1]],
  [[1837,0.0],[1838,0.01],[1839.5,0.03],[1839.9,0.04],[1840.3,0.06],[1840.8,0.08],[1841.3,0.1],[1841.9,0.12],[1842.4,0.15],[1843.0,0.17],[1843.5,0.2],[1844.1,0.22],[1844.7,0.25],[1845.3,0.27],[1845.9,0.3],[1846.5,0.33],[1847.1,0.36],[1847.7,0.39],[1848.3,0.42],[1848.9,0.45],[1849.5,0.48],[1850.0,0.5],[1850.6,0.52],[1851.2,0.54],[1851.8,0.56],[1852.4,0.58],[1853.0,0.6],[1853.6,0.63],[1854.2,0.66],[1854.8,0.69],[1855.4,0.72],[1856.0,0.75],[1856.7,0.78],[1857.3,0.81],[1858.0,0.85],[1858.6,0.88],[1859.1,0.91],[1859.9,1]],
  [[1837,0.09],[1838,0.1],[1839.2,0.12],[1839.5,0.14],[1839.9,0.16],[1840.3,0.18],[1840.8,0.2],[1841.3,0.22],[1841.9,0.25],[1842.4,0.27],[1843.0,0.3],[1843.6,0.32],[1844.2,0.35],[1844.8,0.37],[1845.4,0.4],[1846.0,0.42],[1846.6,0.45],[1847.2,0.47],[1847.8,0.5],[1848.4,0.53],[1849.0,0.56],[1849.6,0.59],[1850.2,0.62],[1850.8,0.65],[1851.5,0.68],[1852.2,0.71],[1852.9,0.74],[1853.6,0.77],[1854.4,0.8],[1855.2,0.82],[1856.1,0.85],[1857.0,0.87],[1857.9,0.9],[1858.7,0.93],[1859.4,0.95],[1860.0,1]]
];

// Mean proportion over all topics
const meanCurve = [[1837,0.03],[1838,0.047],[1839.1,0.05],[1839.2,0.064],[1839.6,0.087],[1840,0.115],[1840.1,0.16],[1840.4,0.195],[1840.8,0.215],[1841.45,0.24],[1841.85,0.255],[1842.25,0.275],[1842.45,0.288],[1843.0,0.306],[1843.4,0.322],[1844.0,0.342],[1844.6,0.383],[1845.2,0.43],[1845.7,0.45],[1846.3,0.478],[1846.8,0.5],[1847.1,0.518],[1847.4,0.534],[1847.8,0.56],[1848.0,0.578],[1848.45,0.604],[1848.85,0.63],[1849.3,0.658],[1849.6,0.67],[1849.9,0.68],[1850.5,0.7],[1851.2,0.715],[1851.85,0.73],[1852.05,0.74],[1852.5,0.77],[1853.0,0.8],[1853.5,0.825],[1854.1,0.85],[1854.85,0.87],[1855.8,0.88],[1856.4,0.897],[1856.9,0.94],[1857.8,0.943],[1858.5,0.955],[1858.8,0.96],[1859.3,0.978],[1859.85,0.993]];

const X_MIN = 1837;
const X_MAX = 1860.34;
const FONT = '"Liberation Sans", Arial, sans-serif';

// Hold the final proportion until the end of the axis
function holdToEnd(points) {
  const last = points[points.length - 1];
  return points.concat([[X_MAX, last[1]]]);
}

const chart = echarts.init(document.getElementById('chart'), null, { renderer: 'canvas' });

const topicSeries = topicCurves.map((pts, i) => ({
  type: 'line',
  step: 'end',
  data: holdToEnd(pts),
  showSymbol: false,
  symbol: 'none',
  silent: true,
  clip: true,
  z: 2,
  lineStyle: { color: palette[i % palette.length], width: 1.3, opacity: 0.95 }
}));

const meanSeries = {
  type: 'line',
  step: 'end',
  data: holdToEnd(meanCurve),
  showSymbol: false,
  symbol: 'none',
  silent: true,
  clip: true,
  z: 4,
  lineStyle: { color: 'rgba(60,60,60,0.8)', width: 3, type: [8, 5] },
  markLine: {
    silent: true,
    symbol: ['none', 'none'],
    label: { show: false },
    lineStyle: { color: '#ff7a85', width: 1.5, type: [6, 5] },
    data: eventYears.map(y => ({ xAxis: y }))
  }
};

const axisLineStyle = { color: '#3a3a3a', width: 1 };
const tickStyle = { show: true, inside: true, length: 4, lineStyle: { color: '#3a3a3a', width: 1 } };

chart.setOption({
  animation: false,
  backgroundColor: '#ffffff',
  title: {
    text: 'History for "Darwin\'s Reading Notebooks" (k=60)',
    left: 441,
    top: 2,
    textAlign: 'center',
    textStyle: { fontFamily: FONT, fontWeight: 'bold', fontSize: 14, color: '#111' }
  },
  grid: { left: 46, top: 24, width: 790, height: 496, outerBoundsMode: 'none', containLabel: false },
  xAxis: [
    {
      type: 'value', min: X_MIN, max: X_MAX, position: 'bottom',
      name: 'Reading date', nameLocation: 'middle', nameGap: 18, nameMoveOverlap: false,
      nameTextStyle: { fontFamily: FONT, fontWeight: 'bold', fontSize: 12, color: '#111' },
      axisLine: { show: true, lineStyle: axisLineStyle },
      axisTick: Object.assign({ customValues: yearTicks }, tickStyle),
      axisLabel: { customValues: yearTicks, margin: 7, fontFamily: FONT, fontWeight: 'bold', fontSize: 12, color: '#111', formatter: v => String(v) },
      splitLine: { show: false }
    },
    {
      type: 'value', min: X_MIN, max: X_MAX, position: 'top',
      axisLine: { show: true, lineStyle: axisLineStyle },
      axisTick: Object.assign({ customValues: yearTicks }, tickStyle),
      axisLabel: { show: false },
      splitLine: { show: false }
    }
  ],
  yAxis: [
    {
      type: 'value', min: 0, max: 1, interval: 0.2, position: 'left',
      name: 'Proportion observed', nameLocation: 'middle', nameGap: 26, nameRotate: 90, nameMoveOverlap: false,
      nameTextStyle: { fontFamily: FONT, fontWeight: 'bold', fontSize: 12, color: '#111' },
      axisLine: { show: true, lineStyle: axisLineStyle },
      axisTick: tickStyle,
      axisLabel: { margin: 5, fontFamily: FONT, fontWeight: 'bold', fontSize: 12, color: '#111', formatter: v => v.toFixed(1) },
      splitLine: { show: false }
    },
    {
      type: 'value', min: 0, max: 1, interval: 0.2, position: 'right',
      axisLine: { show: true, lineStyle: axisLineStyle },
      axisTick: tickStyle,
      axisLabel: { show: false },
      splitLine: { show: false }
    }
  ],
  series: topicSeries.concat([meanSeries])
});

// Vertical event captions placed just left of each event line
const topPx = chart.convertToPixel({ yAxisIndex: 0 }, 1) + 16;
chart.setOption({
  graphic: eventYears.map((yr, i) => ({
    type: 'text',
    x: chart.convertToPixel({ xAxisIndex: 0 }, yr) - (i === 0 ? 2 : 3),
    y: topPx,
    rotation: Math.PI / 2,
    silent: true,
    z: 10,
    style: {
      text: eventLabels[i],
      align: 'right',
      verticalAlign: 'bottom',
      fontFamily: FONT,
      fontWeight: 'bold',
      fontSize: 12,
      fill: '#111'
    }
  }))
});
</script>
</body>
</html>
